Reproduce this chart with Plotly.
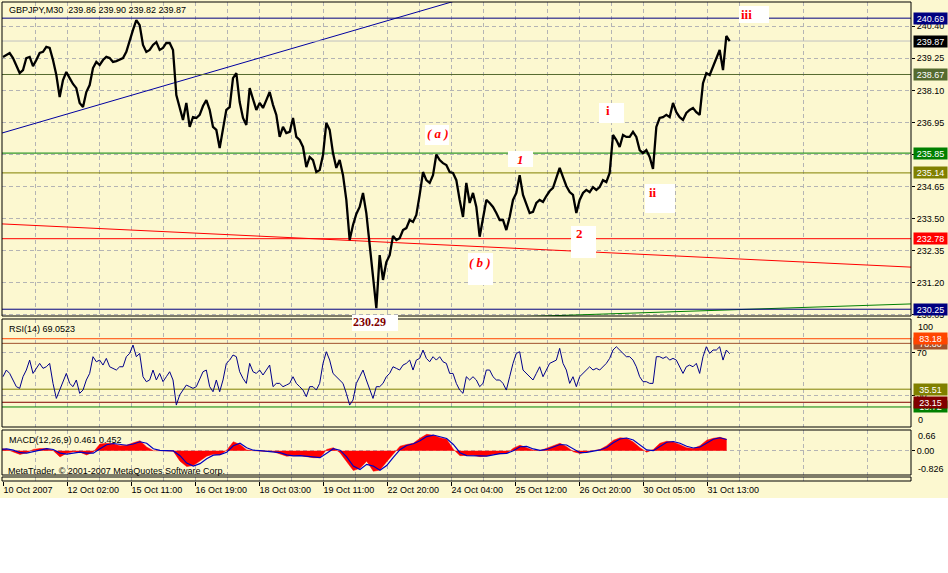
import plotly.graph_objects as go

# ---------------- data ----------------
symbol_title = "GBPJPY,M30  239.86 239.90 239.82 239.87"
rsi_title = "RSI(14) 69.0523"
macd_title = "MACD(12,26,9) 0.461 0.452"
copyright_text = "MetaTrader, \u00a9 2001-2007 MetaQuotes Software Corp."

time_labels = ["10 Oct 2007", "12 Oct 02:00", "15 Oct 11:00", "16 Oct 19:00", "18 Oct 03:00",
               "19 Oct 11:00", "22 Oct 20:00", "24 Oct 04:00", "25 Oct 12:00", "26 Oct 20:00",
               "30 Oct 05:00", "31 Oct 13:00"]
label_bars = [0, 64, 128, 192, 256, 320, 384, 448, 512, 576, 640, 704]
grid_bars = [32, 96, 160, 224, 288, 352, 416, 480, 544, 608, 672, 736, 800, 864]

# close price sampled every 10/3 M30 bars
close = [
    239.30, 239.37, 239.44, 239.26, 238.97, 238.72, 238.83, 239.26, 239.30, 238.97,
    239.19, 239.44, 239.48, 239.66, 239.62, 239.19, 238.65, 237.86, 238.47, 238.76,
    238.54, 238.33, 238.18, 237.65, 237.50, 238.04, 238.29, 238.90, 239.12, 239.01,
    239.19, 239.30, 239.26, 239.12, 239.15, 239.22, 239.26, 239.48, 239.91, 240.27,
    240.62, 240.44, 239.73, 239.48, 239.55, 239.73, 239.83, 239.55, 239.62, 239.80,
    239.80, 239.55, 237.93, 237.50, 237.04, 237.65, 236.79, 237.14, 237.11, 237.22,
    237.54, 237.75, 237.40, 236.79, 236.68, 236.03, 236.68, 237.40, 237.50, 238.54,
    238.72, 237.68, 237.11, 236.86, 238.18, 237.75, 237.40, 237.65, 237.47, 237.75,
    238.04, 237.58, 237.22, 236.43, 236.79, 236.57, 236.61, 237.11, 236.43, 236.32,
    236.07, 235.35, 235.71, 235.60, 235.17, 235.24, 235.78, 236.93, 236.68, 235.85,
    235.32, 235.60, 235.06, 234.17, 232.73, 233.27, 233.67, 233.92, 234.42, 233.70,
    232.55, 231.19, 230.29, 232.19, 231.30, 231.94, 232.19, 232.88, 232.73, 232.80,
    233.09, 233.16, 233.45, 233.38, 233.63, 234.35, 235.17, 234.88, 234.78, 235.06,
    235.80, 235.60, 235.49, 235.42, 235.17,
    235.14, 234.88, 234.17, 233.56, 234.78, 234.06, 234.42, 233.92, 232.85, 233.45,
    234.17, 234.06, 233.92, 233.70, 233.45, 233.45, 233.09, 233.56, 234.17, 234.42,
    235.06, 234.35, 233.99, 233.70, 233.74, 234.06, 234.17, 234.10, 234.31, 234.49,
    234.60, 234.96, 235.32, 234.99, 234.67, 234.45, 234.35, 233.70, 234.17, 234.42,
    234.53, 234.45, 234.63, 234.53, 234.63, 234.88, 234.81, 235.14, 236.50, 236.32,
    236.07, 236.50, 236.43, 236.43, 236.61, 236.43, 235.96, 235.85, 235.96, 235.71,
    235.28, 236.79, 237.11, 237.14, 237.22, 237.14, 237.65, 237.32, 237.14, 237.04,
    237.29, 237.40, 237.47, 237.32, 237.22, 238.36, 238.72, 238.65, 238.94, 239.19,
    239.55, 238.83, 240.05, 239.87,
]

rsi = [
    47.3, 53.6, 50.4, 44.2, 37.9, 36.3, 47.3, 53.6, 63.0, 50.4,
    55.2, 59.9, 55.2, 56.7, 59.9, 41.0, 26.8, 34.7, 44.2, 50.4,
    41.0, 37.9, 44.2, 31.6, 34.7, 44.2, 50.4, 66.2, 61.4, 63.0,
    58.3, 64.6, 56.7, 55.2, 53.6, 56.7, 56.7, 66.2, 69.3, 77.2,
    66.2, 69.3, 47.3, 42.6, 44.2, 53.6, 44.2, 50.4, 42.6, 47.3,
    52.0, 44.2, 20.5, 30.0, 34.7, 39.4, 37.9, 36.3, 37.9, 44.2,
    52.0, 53.6, 37.9, 33.1, 44.2, 33.1, 44.2, 59.9, 63.0, 67.8,
    66.2, 52.0, 45.7, 41.0, 59.9, 52.0, 50.4, 53.6, 48.9, 53.6,
    58.3, 37.9, 41.0, 41.0, 37.9, 39.4, 41.0, 47.3, 41.0, 37.9,
    34.7, 28.4, 37.9, 37.9, 34.7, 41.0, 59.9, 70.9, 63.0, 50.4,
    47.3, 44.2, 41.0, 31.6, 20.5, 25.3, 41.0, 47.3, 53.6, 44.2,
    34.7, 26.8, 37.9, 37.9, 41.0, 47.3, 50.4, 56.7, 55.2, 53.6,
    58.3, 59.9, 63.0, 53.6, 63.0, 64.6, 72.5, 64.6, 61.4, 66.2,
    63.0, 66.2, 61.4, 59.9, 50.4,
    50.4, 41.0, 34.7, 31.6, 47.3, 44.2, 47.3, 44.2, 37.9, 41.0,
    53.6, 53.6, 47.3, 44.2, 44.2, 41.0, 34.7, 47.3, 59.9, 69.3,
    70.9, 53.6, 50.4, 47.3, 44.2, 50.4, 56.7, 47.3, 53.6, 59.9,
    61.4, 63.0, 74.1, 59.9, 53.6, 41.0, 47.3, 37.9, 47.3, 50.4,
    53.6, 56.7, 53.6, 55.2, 53.6, 56.7, 59.9, 64.6, 72.5, 75.6,
    72.5, 69.3, 66.2, 66.2, 63.0, 56.7, 47.3, 42.6, 42.6, 41.0,
    41.0, 66.2, 66.2, 64.6, 66.2, 63.0, 64.6, 63.0, 56.7, 50.4,
    56.7, 58.3, 56.7, 59.9, 50.4, 66.2, 75.6, 69.3, 72.5, 72.5,
    75.6, 63.0, 72.5, 69.05,
]

# MACD sampled every 20/3 bars
macd_hist = [
    0.09, 0.06, -0.05, -0.15, -0.08, 0.05, 0.09, 0.09, 0.00, -0.25,
    -0.10, -0.04, -0.06, -0.17, -0.05, 0.27, 0.30, 0.28, 0.20, 0.22,
    0.32, 0.40, 0.15, 0.00, 0.00, 0.00, -0.02, -0.42, -0.64, -0.60,
    -0.42, -0.22, -0.14, -0.17, 0.02, 0.36, 0.25, 0.03, 0.00, 0.00,
    -0.03, -0.04, -0.12, -0.22, -0.20, -0.20, -0.24, -0.28, -0.28, 0.05,
    0.12, -0.08, -0.44, -0.80, -0.71, -0.42, -0.826, -0.78, -0.44, -0.11,
    0.18, 0.25, 0.30, 0.50, 0.66, 0.62, 0.52, 0.46, 0.06, -0.20,
    -0.20, -0.18, -0.24, -0.21, -0.14, -0.11, -0.11, 0.10, 0.22, 0.12,
    0.02, 0.00, 0.09, 0.19, 0.30, 0.16, -0.04, -0.11, -0.04, 0.00,
    0.05, 0.20, 0.42, 0.52, 0.50, 0.35, 0.12, -0.06, 0.05, 0.30,
    0.38, 0.35, 0.24, 0.12, 0.09, 0.20, 0.42, 0.50, 0.54, 0.461,
]
macd_signal = [
    0.05, 0.07, 0.02, -0.08, -0.10, -0.03, 0.04, 0.08, 0.05, -0.10,
    -0.14, -0.09, -0.06, -0.10, -0.10, 0.08, 0.24, 0.29, 0.25, 0.22,
    0.27, 0.36, 0.30, 0.08, 0.01, 0.00, -0.01, -0.20, -0.50, -0.62,
    -0.52, -0.32, -0.18, -0.16, -0.06, 0.20, 0.30, 0.12, 0.02, 0.00,
    -0.02, -0.03, -0.08, -0.17, -0.21, -0.20, -0.22, -0.26, -0.28, -0.10,
    0.08, 0.02, -0.25, -0.62, -0.76, -0.55, -0.62, -0.79, -0.60, -0.27,
    0.04, 0.21, 0.28, 0.40, 0.57, 0.63, 0.57, 0.49, 0.25, -0.08,
    -0.20, -0.19, -0.21, -0.22, -0.17, -0.12, -0.11, 0.00, 0.16, 0.17,
    0.07, 0.01, 0.05, 0.14, 0.25, 0.23, 0.06, -0.08, -0.07, -0.02,
    0.03, 0.13, 0.32, 0.47, 0.51, 0.43, 0.23, 0.03, 0.00, 0.17,
    0.34, 0.37, 0.30, 0.18, 0.11, 0.15, 0.32, 0.46, 0.52, 0.452,
]

price_ticks = [240.40, 239.25, 238.10, 236.95, 235.80, 234.65, 233.50, 232.35, 231.20, 230.05]
price_levels = [240.69, 239.87, 238.67, 235.85, 235.14, 232.78, 230.25]
level_colors = ["#000080", "#C0C0C0", "#556B2F", "#008000", "#808000", "#FF0000", "#000080"]
badge_colors = ["#000080", "#000000", "#556B2F", "#008000", "#808000", "#FF0000", "#000080"]

rsi_levels = [78.80, 83.18, 18.72, 35.51, 23.15]
rsi_level_colors = ["#A0522D", "#FF4500", "#008000", "#808000", "#800000"]

# trend lines (bar, price)
blue_trend = ([-1, 460], [236.57, 241.39])
red_trend = ([-1, 908], [233.31, 231.76])
green_trend = ([450, 908], [229.90, 230.44])

low_label = "230.29"
wave_labels = ["<i>( a )</i>", "<i>( b )</i>", "<i>1</i>", "2", "i", "ii", "iii"]

# ---------------- geometry helpers (pixel layout) ----------------
W, H = 948, 498
PL, PR, PT, PB = 2, 911, 2, 481


def fx(px):
    return (px - PL) / (PR - PL)


def fy(py):
    return (PB - py) / (PB - PT)


price_bars = [i * 10 / 3 for i in range(len(close))]
macd_bars = [i * 20 / 3 - 3 for i in range(len(macd_hist))]

BG = "#FCF8D0"
GRID = "#B4B4B4"
FONT = "Liberation Sans"

fig = go.Figure()

# trend lines
fig.add_trace(go.Scatter(x=blue_trend[0], y=blue_trend[1], mode="lines",
                         line=dict(color="#0000A0", width=1), yaxis="y"))
fig.add_trace(go.Scatter(x=red_trend[0], y=red_trend[1], mode="lines",
                         line=dict(color="#FF0000", width=1), yaxis="y"))
fig.add_trace(go.Scatter(x=green_trend[0], y=green_trend[1], mode="lines",
                         line=dict(color="#008000", width=1), yaxis="y"))

# horizontal price levels
for lv, c in zip(price_levels, level_colors):
    fig.add_trace(go.Scatter(x=[-1, 908], y=[lv, lv], mode="lines",
                             line=dict(color=c, width=1), yaxis="y"))

# price
fig.add_trace(go.Scatter(x=price_bars, y=close, mode="lines",
                         line=dict(color="#000000", width=2.3), yaxis="y"))

# RSI levels + RSI
for lv, c in zip(rsi_levels, rsi_level_colors):
    fig.add_trace(go.Scatter(x=[-1, 908], y=[lv, lv], mode="lines",
                             line=dict(color=c, width=1), yaxis="y2"))
fig.add_trace(go.Scatter(x=price_bars, y=rsi, mode="lines",
                         line=dict(color="#00008B", width=1), yaxis="y2"))

# MACD
fig.add_trace(go.Scatter(x=macd_bars, y=macd_hist, mode="lines", fill="tozeroy",
                         fillcolor="#FF0000", line=dict(color="#FF0000", width=0.5), yaxis="y3"))
fig.add_trace(go.Scatter(x=macd_bars, y=macd_signal, mode="lines",
                         line=dict(color="#0000C0", width=1.2), yaxis="y3"))
fig.add_trace(go.Scatter(x=[], y=[], yaxis="y4"))

shapes = []
# white boxes behind wave labels
boxes = [(425, 125, 449, 145), (468, 253, 493, 285), (508, 151, 533, 167), (571, 226, 596, 258),
         (599, 103, 624, 123), (645, 184, 675, 213), (739, 6, 769, 23)]

# frames
for (y0, y1) in [(2, 316), (319, 427), (430, 475), (477, 481)]:
    shapes.append(dict(type="rect", xref="paper", yref="paper", x0=fx(2), x1=fx(911),
                       y0=fy(y1), y1=fy(y0), line=dict(color="#000000", width=1),
                       fillcolor="rgba(0,0,0,0)", layer="above"))
for (x0, y0, x1, y1) in boxes:
    shapes.append(dict(type="rect", xref="paper", yref="paper", x0=fx(x0), x1=fx(x1),
                       y0=fy(y1), y1=fy(y0), line=dict(width=0), fillcolor="#FFFFFF", layer="above"))
shapes.append(dict(type="rect", xref="paper", yref="paper", x0=fx(352), x1=fx(398),
                   y0=fy(331), y1=fy(315), line=dict(width=0), fillcolor="#FFFFFF", layer="above"))

ann = []
small = dict(family=FONT, size=9, color="#000000")
ann.append(dict(text=symbol_title, x=fx(7), y=fy(10), xref="paper", yref="paper",
                xanchor="left", yanchor="middle", showarrow=False, font=small))
ann.append(dict(text=rsi_title, x=fx(7), y=fy(329), xref="paper", yref="paper",
                xanchor="left", yanchor="middle", showarrow=False, font=small))
ann.append(dict(text=macd_title, x=fx(7), y=fy(440), xref="paper", yref="paper",
                xanchor="left", yanchor="middle", showarrow=False, font=small))
ann.append(dict(text=copyright_text, x=fx(6), y=fy(471), xref="paper", yref="paper",
                xanchor="left", yanchor="middle", showarrow=False, font=small))

# wave labels
wave_pos = [(425, 133), (467, 262), (515, 159), (574, 233), (604, 111), (647, 192), (739, 14)]
for t, (px, py) in zip(wave_labels, wave_pos):
    ann.append(dict(text="<b>" + t + "</b>", x=fx(px), y=fy(py), xref="paper", yref="paper",
                    xanchor="left", yanchor="middle", showarrow=False,
                    font=dict(family="Liberation Serif", size=13, color="#FF0000")))
ann.append(dict(text="<b>" + low_label + "</b>", x=fx(351), y=fy(322), xref="paper", yref="paper",
                xanchor="left", yanchor="middle", showarrow=False,
                font=dict(family="Liberation Serif", size=12, color="#800000")))

# right-side scale labels drawn as text
side_labels = [("100", 327), ("0", 420), ("0.66", 436), ("-0.826", 469)]
for t, py in side_labels:
    ann.append(dict(text=t, x=fx(916), y=fy(py), xref="paper", yref="paper",
                    xanchor="left", yanchor="middle", showarrow=False, font=small))

badge_font = dict(family=FONT, size=9, color="#FFFFFF")
for lv, c in zip(price_levels, badge_colors):
    ann.append(dict(text=f"{lv:.2f}", x=fx(913), y=lv, xref="paper", yref="y",
                    xanchor="left", yanchor="middle", showarrow=False, bgcolor=c,
                    width=32, height=10, borderpad=0.5, align="center", font=badge_font))
for lv, c in zip(rsi_levels, rsi_level_colors):
    ann.append(dict(text=f"{lv:.2f}", x=fx(913), y=lv, xref="paper", yref="y2",
                    xanchor="left", yanchor="middle", showarrow=False, bgcolor=c,
                    width=32, height=10, borderpad=0.5, align="center", font=badge_font))

axis_common = dict(side="right", anchor="x", zeroline=False, showline=False, ticks="outside",
                   ticklen=3, tickcolor="#000000", tickfont=small, showgrid=True,
                   gridcolor=GRID, griddash="4px,3px", gridwidth=1, fixedrange=True)

fig.update_layout(
    width=W, height=H,
    margin=dict(l=PL, r=W - PR, t=PT, b=H - PB, pad=0),
    paper_bgcolor=BG, plot_bgcolor=BG,
    showlegend=False,
    shapes=shapes, annotations=ann,
    xaxis=dict(range=[-1, 908], anchor="y4", tickmode="array", tickvals=label_bars,
               ticktext=time_labels, ticks="outside", ticklen=4, tickcolor="#000000",
               tickfont=small, ticklabelposition="outside right", showgrid=True,
               gridcolor=GRID, griddash="4px,3px", zeroline=False, showline=False,
               minor=dict(tickvals=grid_bars, showgrid=True, gridcolor=GRID,
                          griddash="4px,3px", ticks=""),
               fixedrange=True),
    yaxis=dict(domain=[fy(316), fy(2)], range=[230.007, 241.27], tickmode="array",
               tickvals=price_ticks, ticktext=[f"{v:.2f}" for v in price_ticks], **axis_common),
    yaxis2=dict(domain=[fy(427), fy(319)], range=[-0.2, 101.8], tickmode="array",
                tickvals=[70, 30], ticktext=["70", "30"], **axis_common),
    yaxis3=dict(domain=[fy(475), fy(430)], range=[-0.978, 0.833], tickmode="array",
                tickvals=[0], ticktext=["0.00"], **axis_common),
    yaxis4=dict(domain=[0, fy(477)], range=[0, 1], anchor="x", showgrid=False,
                showticklabels=False, zeroline=False, fixedrange=True),
)

fig.write_html("out.html", config={"displayModeBar": False},
               post_script="document.body.style.margin='0px';")
